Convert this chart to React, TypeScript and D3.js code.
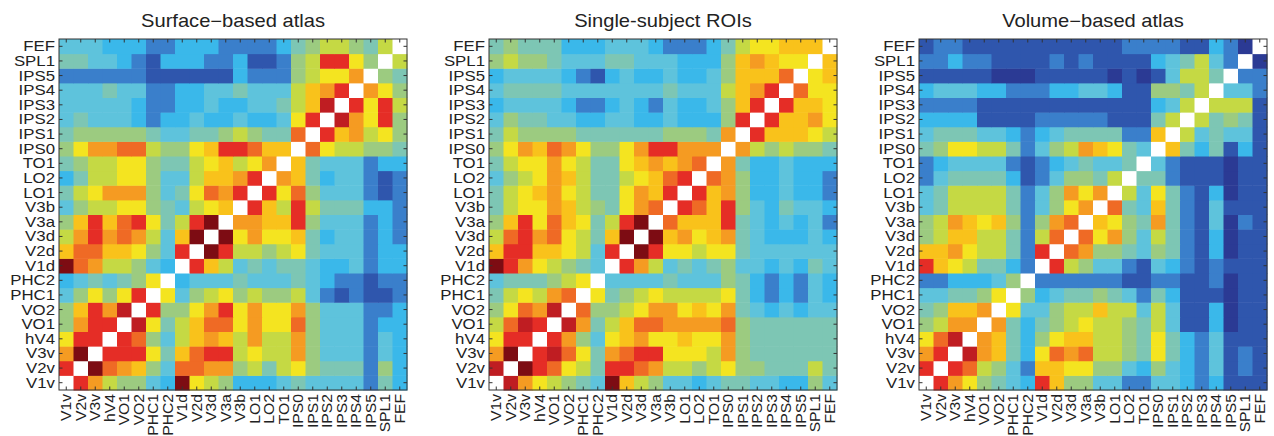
import React, { useEffect, useRef } from "react";
import * as d3 from "d3";

const regions = ["V1v", "V2v", "V3v", "hV4", "VO1", "VO2", "PHC1", "PHC2", "V1d", "V2d", "V3d", "V3a", "V3b", "LO1", "LO2", "TO1", "IPS0", "IPS1", "IPS2", "IPS3", "IPS4", "IPS5", "SPL1", "FEF"];

const titles = ["Surface\u2212based atlas", "Single-subject ROIs", "Volume\u2212based atlas"];

// one string per row, V1v (bottom) first; one char per column (V1v..FEF)
// 0..e = correlation level (0 lowest, e highest), w = diagonal
const surfaceRows = [
  "wca76643e876333454444253",
  "cweba964bbaa675786555263",
  "aewccc859bcc7877a6444243",
  "8ccwcb6479a97a77a6444243",
  "6accwd8579bb8a88b6444233",
  "69cadwc668ac8a88a6444223",
  "46868cw84678676674212112",
  "3454568w3444544454322122",
  "eba77643wc97454554334233",
  "9bb99864cwec776785444233",
  "7acaba749ewe8a8895344232",
  "69c9bc857cewaa99c6444232",
  "467788654789wc97c7555332",
  "578aaa6458bacwc8b6444212",
  "357788644799acwa95344212",
  "56778865578978aw95444233",
  "68aabb76689ccb99wb877665",
  "5666665445567655bwc9a786",
  "45444323343343348cwda8c6",
  "444443223343344579dwc8c7",
  "444544223344544479acwa86",
  "22222211111132226788aw65",
  "554432133322311267cc86w7",
  "44433322333222235677657w",
];

const subjectRows = [
  "wda87654e976443455443364",
  "dwecb875ccba776786655575",
  "aewcdb85abcc8887a6555555",
  "8ccwca6489a88988a6555555",
  "7bdcwda579bbaaaab6555555",
  "68badwb6678aa898a5434344",
  "5787abw85678777785323243",
  "4555678w4444544465323243",
  "eca87654wca7454564434354",
  "9cc99874cwec887885444444",
  "7bcab8759ewe9a89a5433343",
  "69c8b9857cewb999c5434342",
  "5788a97658abwcb9c6435443",
  "5789a87558a9cwc9a6334332",
  "4678a9755789bcwba6334332",
  "5788a875589a9abwa5334333",
  "68a9ba8668accaaawa767665",
  "5766665555556665awc99987",
  "46554433443343336cwc99a8",
  "344443223432433469cwc998",
  "455554444444544479acwb88",
  "34444321343343346999bw89",
  "676654445544433369a988w9",
  "56555333444322235788999w",
];

const volumeRows = [
  "wca86543c966442244323111",
  "cwcb76429988664364324121",
  "acwda9538bab776585324121",
  "8bdwa9536899776585324111",
  "67aawa535678776574113011",
  "5699aw844677977474113011",
  "445568w63455654253111011",
  "2233346w2222221122112011",
  "c9875532wc76442143212111",
  "99a87752cwba665465213011",
  "679977527bwb8a6475213011",
  "67a989626abw9865a5214021",
  "45777752468awb5495214111",
  "4577775246a8aw7485213011",
  "24555531246657w552111011",
  "234444212345445w42111011",
  "56887752467a9854w9535131",
  "45554432345555229w745441",
  "333311112222211157w75651",
  "2222111111111111347w7771",
  "34443322233443116657w442",
  "111110001111101014775w22",
  "2232211112121111345742w0",
  "12211111111111222211320w",
];

const levelColors = ["#2b3a94", "#2f56ad", "#3a7fcb", "#3ab8ea", "#5ec3dc", "#7dc6b4", "#9ccb80", "#c5d944", "#f4e420", "#f9c21b", "#f59b22", "#ef6a25", "#e52d26", "#bf1d22", "#7d0c13"];

const FONT = "'Liberation Sans', Arial, Helvetica, sans-serif";
const STRETCH = 1.2; // the figure's lettering runs a little wide

function App() {
  const ref = useRef(null);

  useEffect(() => {
    document.body.style.margin = "0";
    const svg = d3.select(ref.current);
    svg.selectAll("*").remove();

    const color = d3
      .scaleLinear<string>()
      .domain(levelColors.map((c, i) => i / (levelColors.length - 1)))
      .range(levelColors);

    const panels = [surfaceRows, subjectRows, volumeRows];
    const panelLeft = [59, 489, 919];
    const top = 39;
    const w = 348;
    const h = 351;

    panels.forEach((rows, p) => {
      const x0 = panelLeft[p];
      const x = d3.scaleBand().domain(regions).range([x0, x0 + w]);
      const y = d3.scaleBand().domain(regions).range([top + h, top]);

      const cells = [];
      rows.forEach((row, i) => {
        row.split("").forEach((ch, j) => {
          cells.push({
            r: regions[i],
            c: regions[j],
            v: ch === "w" ? null : parseInt(ch, 16) / 14,
          });
        });
      });

      const g = svg.append("g");

      g.selectAll("rect.cell")
        .data(cells)
        .enter()
        .append("rect")
        .attr("class", "cell")
        .attr("x", (d) => x(d.c))
        .attr("y", (d) => y(d.r))
        .attr("width", x.bandwidth() + 0.5)
        .attr("height", y.bandwidth() + 0.5)
        .attr("fill", (d) => (d.v === null ? "#ffffff" : color(d.v)));

      // frame
      g.append("rect")
        .attr("x", x0)
        .attr("y", top)
        .attr("width", w)
        .attr("height", h)
        .attr("fill", "none")
        .attr("stroke", "#333")
        .attr("stroke-width", 1);

      // inward ticks on all four sides
      const tl = 3.5;
      regions.forEach((r) => {
        const cx = x(r) + x.bandwidth() / 2;
        const cy = y(r) + y.bandwidth() / 2;
        g.append("line").attr("x1", cx).attr("x2", cx).attr("y1", top).attr("y2", top + tl).attr("stroke", "#333");
        g.append("line").attr("x1", cx).attr("x2", cx).attr("y1", top + h).attr("y2", top + h - tl).attr("stroke", "#333");
        g.append("line").attr("x1", x0).attr("x2", x0 + tl).attr("y1", cy).attr("y2", cy).attr("stroke", "#333");
        g.append("line").attr("x1", x0 + w).attr("x2", x0 + w - tl).attr("y1", cy).attr("y2", cy).attr("stroke", "#333");
      });

      // y labels
      g.selectAll("text.ylab")
        .data(regions)
        .enter()
        .append("text")
        .attr("class", "ylab")
        .attr("transform", (d) => `translate(${x0 - 4},${y(d) + y.bandwidth() / 2}) scale(${STRETCH},1)`)
        .attr("dy", "0.36em")
        .attr("text-anchor", "end")
        .style("font-family", FONT)
        .style("font-size", "14px")
        .style("fill", "#222")
        .text((d) => d);

      // x labels, rotated, stretched along their length
      g.selectAll("text.xlab")
        .data(regions)
        .enter()
        .append("text")
        .attr("class", "xlab")
        .attr("transform", (d) => `translate(${x(d) + x.bandwidth() / 2},${top + h + 4}) rotate(-90) scale(1.12,1)`)
        .attr("dy", "0.36em")
        .attr("text-anchor", "end")
        .style("font-family", FONT)
        .style("font-size", "14px")
        .style("fill", "#222")
        .text((d) => d);

      // title
      g.append("text")
        .attr("transform", `translate(${x0 + w / 2},27) scale(1.15,1)`)
        .attr("text-anchor", "middle")
        .style("font-family", FONT)
        .style("font-size", "17.5px")
        .style("fill", "#222")
        .text(titles[p]);
    });
  }, []);

  return (
    <svg
      ref={ref}
      width={1274}
      height={436}
      style={{ display: "block", background: "#ffffff" }}
    ></svg>
  );
}

export default App;
